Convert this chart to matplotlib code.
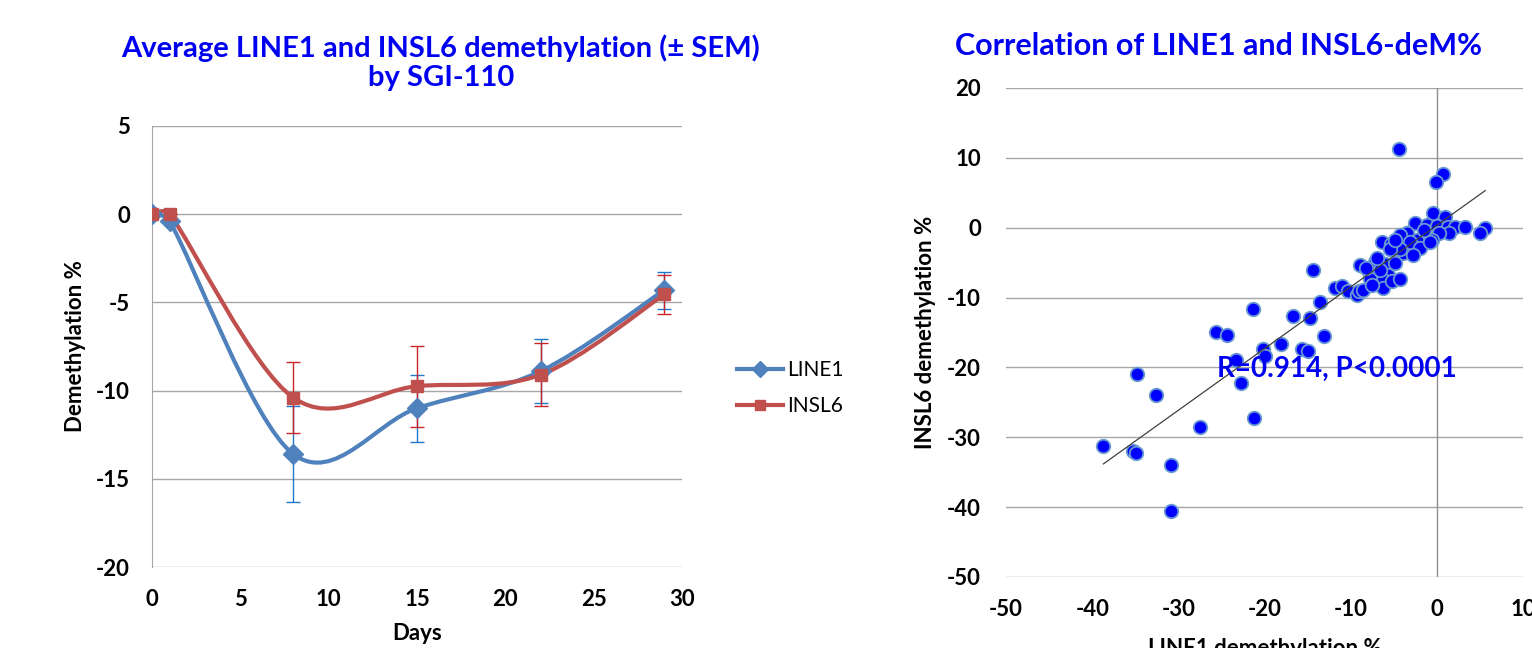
import numpy as np
import matplotlib
matplotlib.use("Agg")
import matplotlib.pyplot as plt
from matplotlib.path import Path
from matplotlib.patches import PathPatch
from matplotlib.lines import Line2D

# ---- left panel: average demethylation over time ----
days = [0, 1, 8, 15, 22, 29]
line1_mean = [0.0, -0.4, -13.6, -11.0, -8.9, -4.3]
line1_sem = [0.0, 0.0, 2.7, 1.9, 1.8, 1.05]
insl6_mean = [0.0, 0.0, -10.4, -9.75, -9.1, -4.55]
insl6_sem = [0.0, 0.0, 2.0, 2.3, 1.8, 1.1]

# ---- right panel: per-sample correlation ----
line1_dem = [-4.4, 0.7, -0.1, -25.6, -24.4, -21.3, -34.8, -32.6, -38.7, -35.3,
             -34.9, -30.9, -30.9, -27.5, -21.2, -22.7, -23.3, -20.2, -20.0, -18.1,
             -16.7, -15.7, -15.0, -14.7, -14.4, -13.6, -13.1, -11.8, -11.0, -10.3,
             -9.3, -9.0, -8.9, -8.6, -7.8, -7.2, -6.4, -5.3, -6.0, -5.7,
             -6.4, -6.3, -5.2, -4.3, -4.3, -3.5, -3.9, -6.6, -7.8, -4.9,
             -7.0, -8.2, -7.5, -0.5, 0.9, -2.6, -1.2, 0.0, 1.3, 2.1,
             3.2, 5.6, 5.0, 1.4, 0.2, -3.5, -4.3, -2.3, -0.6, -3.1,
             -2.0, -0.8, -2.8, -4.3, -1.5, -5.5, -4.9]
insl6_dem = [11.3, 7.7, 6.6, -15.0, -15.4, -11.7, -21.0, -23.9, -31.3, -31.9,
             -32.2, -34.0, -40.5, -28.6, -27.2, -22.3, -18.9, -17.3, -18.3, -16.6,
             -12.7, -17.3, -17.6, -12.9, -6.0, -10.7, -15.5, -8.7, -8.3, -9.0,
             -9.6, -9.0, -5.3, -8.9, -6.6, -4.9, -2.1, -2.3, -5.2, -6.7,
             -7.4, -8.6, -7.7, -7.4, -1.7, -0.7, -3.6, -6.0, -7.4, -5.0,
             -4.3, -5.7, -8.2, 2.1, 1.6, 0.7, 0.4, 0.3, 0.1, 0.1,
             0.1, 0.0, -0.7, -0.7, -0.7, -0.7, -1.1, -1.7, -1.7, -2.0,
             -2.9, -2.0, -3.9, -3.1, -0.3, -3.1, -1.7]

BLUE = "#4F81BD"
RED = "#C0504D"
TITLE_BLUE = "#0000F0"
GRID = "#A6A6A6"

plt.rcParams["font.family"] = ["Lato", "DejaVu Sans"]
plt.rcParams["axes.unicode_minus"] = False


def smooth_path(x, y):
    # Excel-like smoothed line: Catmull-Rom tangents, capped by segment length
    pts = np.column_stack([x, y]).astype(float)
    n = len(pts)

    def tangent(i, seg_len):
        t = (pts[min(i + 1, n - 1)] - pts[max(i - 1, 0)]) / 6.0
        norm = np.hypot(*t)
        cap = 0.5 * seg_len
        if norm > cap:
            t = t * cap / norm
        return t

    verts = [pts[0]]
    codes = [Path.MOVETO]
    for i in range(n - 1):
        p1, p2 = pts[i], pts[i + 1]
        seg = np.hypot(*(p2 - p1))
        verts += [p1 + tangent(i, seg), p2 - tangent(i + 1, seg), p2]
        codes += [Path.CURVE4] * 3
    return Path(verts, codes)


fig = plt.figure(figsize=(15.32, 6.48), dpi=100)

# ---------------- left chart ----------------
ax1 = fig.add_axes([0.0992, 0.125, 0.346, 0.6806])
for mean, sem, color, ecolor, marker, ms in [
        (line1_mean, line1_sem, BLUE, "#1F78CC", "D", 10),
        (insl6_mean, insl6_sem, RED, "#C8242A", "s", 8)]:
    ax1.errorbar(days, mean, yerr=sem, fmt="none", ecolor=ecolor,
                 elinewidth=1, capsize=5, capthick=1, zorder=2)
    ax1.add_patch(PathPatch(smooth_path(days, mean), facecolor="none",
                            edgecolor=color, lw=3, zorder=3))
    ax1.plot(days, mean, ls="none", marker=marker, ms=ms, color=color, zorder=4)

ax1.set_xlim(0, 30)
ax1.set_ylim(-20, 5)
ax1.set_xticks(range(0, 31, 5))
ax1.set_yticks(range(-20, 6, 5))
ax1.yaxis.grid(True, color=GRID, lw=1)
ax1.set_axisbelow(True)
for s in ["top", "right", "bottom"]:
    ax1.spines[s].set_visible(False)
ax1.spines["left"].set_color(GRID)
ax1.tick_params(length=0, labelsize=16, pad=16)
ax1.tick_params(axis="y", pad=16)
for lab in ax1.get_xticklabels() + ax1.get_yticklabels():
    lab.set_fontweight("bold")
ax1.set_xlabel("Days", fontsize=16, fontweight="bold", labelpad=9)
ax1.set_ylabel("Demethylation %", fontsize=16, fontweight="bold", labelpad=7)
ax1.set_title("Average LINE1 and INSL6 demethylation (± SEM)\nby SGI-110",
              fontsize=21, fontweight="bold", color=TITLE_BLUE, pad=29,
              linespacing=1.15, x=0.545)

handles = [Line2D([], [], color=BLUE, lw=3, marker="D", ms=8),
           Line2D([], [], color=RED, lw=3, marker="s", ms=7)]
fig.legend(handles, ["LINE1", "INSL6"], loc="center left",
           bbox_to_anchor=(0.469, 0.401), frameon=False, fontsize=15,
           handlelength=2.2, handletextpad=0.2, labelspacing=0.8)

# ---------------- right chart ----------------
ax2 = fig.add_axes([0.6567, 0.1096, 0.3375, 0.7546])
ax2.scatter(line1_dem, insl6_dem, s=95, color="#0000FF",
            edgecolors="#6A9BD0", linewidths=1.3, zorder=3)
slope, intercept = np.polyfit(line1_dem, insl6_dem, 1)
xs = np.array([min(line1_dem), max(line1_dem)])
ax2.plot(xs, slope * xs + intercept, color="#404040", lw=0.9, zorder=4)
ax2.axvline(0, color="#909090", lw=1, zorder=1)
ax2.set_xlim(-50, 10)
ax2.set_ylim(-50, 20)
ax2.set_xticks(range(-50, 11, 10))
ax2.set_yticks(range(-50, 21, 10))
ax2.yaxis.grid(True, color=GRID, lw=1)
ax2.set_axisbelow(True)
for s in ["top", "right", "left", "bottom"]:
    ax2.spines[s].set_visible(False)
ax2.tick_params(length=0, labelsize=16, pad=16)
ax2.tick_params(axis="y", pad=18)
for lab in ax2.get_xticklabels() + ax2.get_yticklabels():
    lab.set_fontweight("bold")
ax2.set_xlabel("LINE1 demethylation %", fontsize=16, fontweight="bold",
               labelpad=13)
ax2.set_ylabel("INSL6 demethylation %", fontsize=16, fontweight="bold",
               labelpad=8)
ax2.set_title("Correlation of LINE1 and INSL6-deM%", fontsize=22,
              fontweight="bold", color=TITLE_BLUE, pad=24, x=0.41)
ax2.text(-11.6, -20.2, "R=0.914, P<0.0001", color=TITLE_BLUE, fontsize=20,
         fontweight="bold", ha="center", va="center", zorder=5)

fig.savefig("out.png", dpi=100)
